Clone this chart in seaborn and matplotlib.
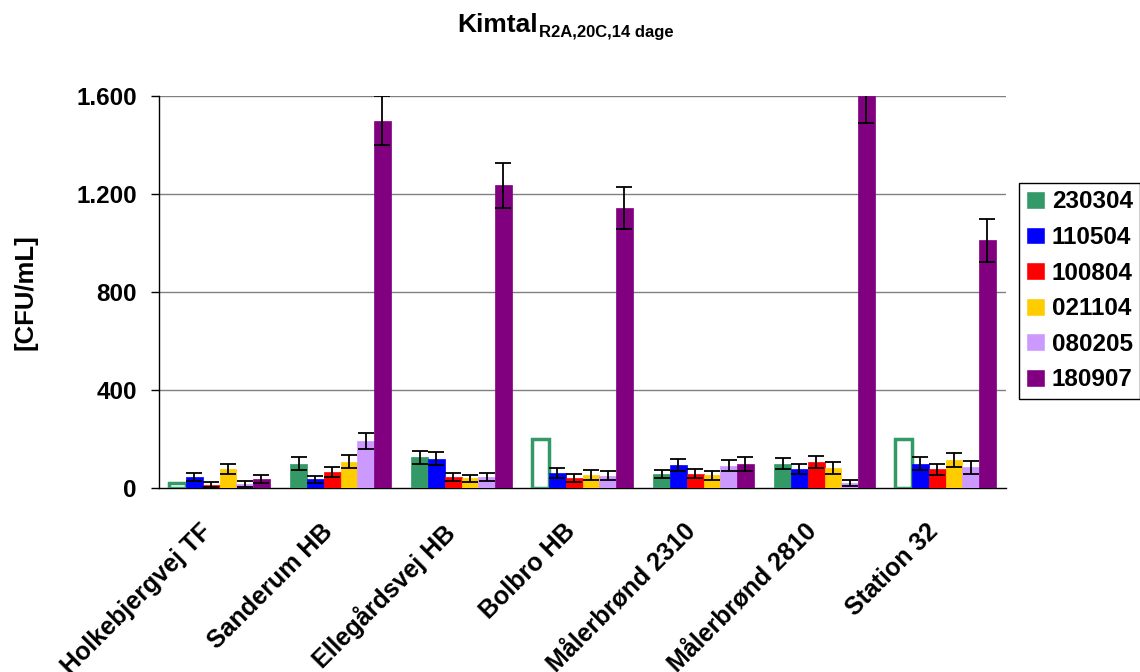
import numpy as np
import pandas as pd
import matplotlib
matplotlib.use("Agg")
import matplotlib.pyplot as plt
import matplotlib.transforms as mtransforms
import seaborn as sns

sites = ["Holkebjergvej TF", "Sanderum HB", "Ellegårdsvej HB", "Bolbro HB",
         "Målerbrønd 2310", "Målerbrønd 2810", "Station 32"]
dates = ["230304", "110504", "100804", "021104", "080205", "180907"]

v_230304 = [20, 100, 125, 200, 57, 100, 200]
v_110504 = [45, 35, 120, 60, 95, 78, 100]
v_100804 = [14, 65, 45, 42, 58, 107, 76]
v_021104 = [77, 107, 40, 53, 52, 82, 114]
v_080205 = [15, 192, 45, 50, 91, 22, 84]
v_180907 = [37, 1500, 1236, 1142, 98, 1600, 1012]

e_230304 = [np.nan, 25, 28, np.nan, 18, 24, np.nan]
e_110504 = [16, 14, 27, 20, 24, 21, 25]
e_100804 = [9, 20, 16, 16, 18, 25, 22]
e_021104 = [20, 26, 15, 19, 18, 23, 28]
e_080205 = [12, 32, 16, 18, 22, 12, 26]
e_180907 = [15, 100, 92, 86, 27, 110, 88]

# green bars drawn hollow (no measurement)
hollow_230304 = [True, False, False, True, False, False, True]

colors = ["#339966", "#0000FF", "#FF0000", "#FFCC00", "#CC99FF", "#800080"]

values = [v_230304, v_110504, v_100804, v_021104, v_080205, v_180907]
errors = [e_230304, e_110504, e_100804, e_021104, e_080205, e_180907]

rows = []
for d, vals in zip(dates, values):
    for s, v in zip(sites, vals):
        rows.append({"site": s, "date": d, "value": v})
df = pd.DataFrame(rows)

sns.set_style("white")
plt.rcParams["font.family"] = ["Liberation Sans", "DejaVu Sans"]
plt.rcParams["font.weight"] = "bold"
for k in ["text.color", "axes.labelcolor", "xtick.color", "ytick.color"]:
    plt.rcParams[k] = "black"

fig = plt.figure(figsize=(11.4, 6.72), dpi=100)
ax = fig.add_axes([159 / 1140, 1 - 488 / 672, 847 / 1140, 392 / 672])

sns.barplot(data=df, x="site", y="value", hue="date", hue_order=dates,
            palette=colors, width=0.83, gap=0, errorbar=None,
            saturation=1, ax=ax, zorder=3)

bar_conts = list(ax.containers)
for i, cont in enumerate(bar_conts):
    xs = [b.get_x() + b.get_width() / 2 for b in cont]
    tops = [b.get_height() for b in cont]
    for j, b in enumerate(cont):
        b.set_edgecolor(colors[i])
        b.set_linewidth(0.5)
        if i == 0 and hollow_230304[j]:
            b.set_facecolor("white")
            b.set_linewidth(2.5)
    ax.errorbar(xs, tops, yerr=errors[i], fmt="none", ecolor="black",
                elinewidth=1.3, capsize=5.5, capthick=1.3, zorder=4)

ax.set_ylim(0, 1600)
ax.set_xlim(-0.5, 6.5)
ax.set_yticks([0, 400, 800, 1200, 1600])
ax.set_yticklabels(["0", "400", "800", "1.200", "1.600"], fontsize=17.5, fontweight="bold")
for y in [400, 800, 1200, 1600]:
    ax.axhline(y, color="#808080", lw=1, zorder=1)

ax.set_xticks(range(len(sites)))
ax.set_xticks(np.arange(-0.5, 7.0, 1.0), minor=True)
ax.tick_params(axis="x", which="major", length=0, pad=24)
ax.tick_params(axis="x", which="minor", length=6, width=1, color="black", direction="out")
ax.tick_params(axis="y", length=6, width=1, color="black", direction="out", left=True, pad=10)
ax.set_xticklabels(sites, rotation=45, ha="right", va="top", rotation_mode="anchor",
                   fontsize=18, fontweight="bold")
shift = mtransforms.ScaledTranslation(-20 / 100, 2 / 100, fig.dpi_scale_trans)
for lab in ax.get_xticklabels():
    lab.set_transform(lab.get_transform() + shift)

for side in ["top", "right"]:
    ax.spines[side].set_visible(False)
for side in ["left", "bottom"]:
    ax.spines[side].set_color("black")
    ax.spines[side].set_linewidth(1)

ax.set_xlabel("")
ax.set_ylabel("[CFU/mL]", fontsize=18.5, fontweight="bold", labelpad=28)

handles, labels = ax.get_legend_handles_labels()
ax.get_legend().remove()
leg = fig.legend(handles, labels, loc="upper left", bbox_to_anchor=(1019 / 1140, 1 - 183 / 672),
                 borderaxespad=0, fancybox=False, edgecolor="black", framealpha=1,
                 prop={"size": 17.5, "weight": "bold"}, handlelength=0.75, handleheight=0.75,
                 handletextpad=0.3, labelspacing=0.52, borderpad=0.3)
leg.get_frame().set_linewidth(1)

fig.text(538 / 1140, 1 - 32 / 672, "Kimtal", ha="right", va="baseline",
         fontsize=19, fontweight="bold")
fig.text(539 / 1140, 1 - 37 / 672, "R2A,20C,14 dage", ha="left", va="baseline",
         fontsize=12, fontweight="bold")

fig.savefig("out.png", dpi=100)
